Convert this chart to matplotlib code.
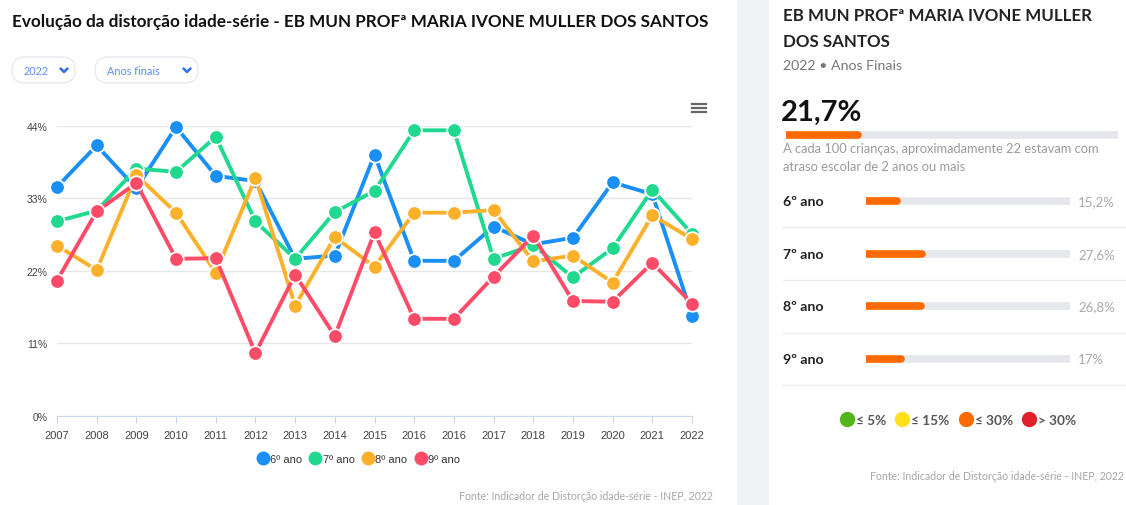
import matplotlib.pyplot as plt
from matplotlib.patches import FancyBboxPatch, Rectangle
from matplotlib.lines import Line2D

# dados do grafico (distorcao idade-serie, %)
anos = ['2007', '2008', '2009', '2010', '2011', '2012', '2013', '2014', '2015',
        '2016', '2016', '2017', '2018', '2019', '2020', '2021', '2022']
ano6 = [34.7, 41.0, 34.5, 43.8, 36.4, 35.6, 23.8, 24.3, 39.6, 23.5, 23.5, 28.7, 26.0, 27.0, 35.4, 33.6, 15.2]
ano7 = [29.5, 31.1, 37.5, 37.0, 42.3, 29.5, 23.8, 30.9, 34.1, 43.3, 43.3, 23.8, 25.9, 21.0, 25.4, 34.3, 27.6]
ano8 = [25.8, 22.1, 36.5, 30.8, 21.7, 36.1, 16.7, 27.1, 22.6, 30.8, 30.8, 31.2, 23.4, 24.3, 20.2, 30.4, 26.8]
ano9 = [20.5, 31.0, 35.3, 23.8, 23.9, 9.5, 21.4, 12.1, 27.8, 14.7, 14.7, 21.1, 27.3, 17.4, 17.3, 23.2, 17.0]
series = ['6º ano', '7º ano', '8º ano', '9º ano']
cores = ['#1a8ff5', '#1ed98e', '#fdb12b', '#fd4b68']
yticks = [0, 11, 22, 33, 44]

# painel lateral (2022)
taxa_total = 21.7
taxas_2022 = [15.2, 27.6, 26.8, 17.0]
rotulos_2022 = ['15,2%', '27,6%', '26,8%', '17%']
faixas = ['≤ 5%', '≤ 15%', '≤ 30%', '> 30%']
cores_faixas = ['#52b61a', '#ffe01a', '#ff6a00', '#e0202a']

W, H = 1126, 506
fig = plt.figure(figsize=(W / 100, H / 100), dpi=100)
plt.rcParams['font.family'] = ['Lato', 'DejaVu Sans']

# camada de fundo em pixels
bg = fig.add_axes([0, 0, 1, 1])
bg.set_xlim(0, W)
bg.set_ylim(H, 0)
bg.axis('off')
bg.add_patch(Rectangle((737, 0), 31, H, color='#f1f2f5', zorder=0))

bg.text(12, 22, 'Evolução da distorção idade-série - EB MUN PROFª MARIA IVONE MULLER DOS SANTOS',
        fontsize=12.35, fontweight='bold', color='#111111', va='center')

# filtros
for x0, w, txt in [(12, 63, '2022'), (95, 103, 'Anos finais')]:
    bg.add_patch(FancyBboxPatch((x0, 58), w, 26, boxstyle='round,pad=0,rounding_size=13',
                                fc='white', ec='#e8eaee', lw=1))
    bg.text(x0 + 12, 71.5, txt, fontsize=7.8, color='#5b8def', va='center')
    cx = x0 + w - 11
    bg.plot([cx - 3.5, cx, cx + 3.5], [69.5, 73, 69.5], color='#2f6fe4', lw=1.8,
            solid_capstyle='round', solid_joinstyle='round')

# icone de menu
for yy in [105, 109, 113]:
    bg.plot([692, 706], [yy, yy], color='#666666', lw=1.6)

bg.text(713, 497, 'Fonte: Indicador de Distorção idade-série - INEP, 2022',
        fontsize=7.6, color='#a6a6a6', ha='right', va='center')

# grafico de linhas
ax = fig.add_axes([57 / W, (H - 416.7) / H, (692 - 57) / W, 290 / H])
x = list(range(len(anos)))
for vals, cor, nome in zip([ano6, ano7, ano8, ano9], cores, series):
    ax.plot(x, vals, color=cor, lw=2.8, marker='o', ms=10.5, mec='white', mew=1.3,
            clip_on=False, label=nome, zorder=3)
ax.set_xlim(0, len(anos) - 1)
ax.set_ylim(0, 44)
ax.set_xticks(x)
ax.set_xticklabels(anos)
ax.set_yticks(yticks)
ax.set_yticklabels([f'{v}%' for v in yticks])
ax.grid(axis='y', color='#e6e6e6', lw=1)
ax.set_axisbelow(True)
for s in ['top', 'right', 'left']:
    ax.spines[s].set_visible(False)
ax.spines['bottom'].set_color('#ccd6eb')
ax.tick_params(axis='x', length=5, color='#ccd6eb', labelsize=8, labelcolor='#444444', pad=5)
ax.tick_params(axis='y', length=0, labelsize=7.5, labelcolor='#444444', pad=7)
for lbl in ax.get_xticklabels() + ax.get_yticklabels():
    lbl.set_family(['Liberation Sans', 'DejaVu Sans'])

handles = [Line2D([], [], marker='o', ls='none', color=c, ms=9) for c in cores]
leg = fig.legend(handles, series, loc='center', bbox_to_anchor=(358 / W, 1 - 460 / H), ncol=4,
                 frameon=False, fontsize=8, handletextpad=0.05, columnspacing=0.6, handlelength=1.2)
for t in leg.get_texts():
    t.set_color('#333333')
    t.set_family(['Liberation Sans', 'DejaVu Sans'])

# painel lateral
bg.text(783, 16, 'EB MUN PROFª MARIA IVONE MULLER', fontsize=12.2, fontweight='bold',
        color='#222222', va='center')
bg.text(783, 42, 'DOS SANTOS', fontsize=12.2, fontweight='bold', color='#222222', va='center')
bg.text(783, 66, '2022 • Anos Finais', fontsize=10.2, color='#777777', va='center')
bg.text(781, 113, '21,7%', fontsize=21, fontweight='bold', color='#111111', va='center')
bg.text(783, 149, 'A cada 100 crianças, aproximadamente 22 estavam com', fontsize=9.3,
        color='#9a9a9a', va='center')
bg.text(783, 167, 'atraso escolar de 2 anos ou mais', fontsize=9.3, color='#9a9a9a', va='center')

ax_t = fig.add_axes([786 / W, 1 - 140 / H, 332 / W, 8 / H])
ax_t.plot([0, 100], [0, 0], color='#e5e7eb', lw=5.5, solid_capstyle='round')
ax_t.plot([0, taxa_total], [0, 0], color='#ff6a00', lw=5.5, solid_capstyle='round')
ax_t.set_xlim(0, 100)
ax_t.set_ylim(-1, 1)
ax_t.axis('off')

ax_b = fig.add_axes([866 / W, 1 - 386.3 / H, 204 / W, 210.6 / H])
for i, (nome, v, r) in enumerate(zip(series, taxas_2022, rotulos_2022)):
    ax_b.plot([0, 100], [i, i], color='#e5e7eb', lw=5.5, solid_capstyle='round')
    ax_b.plot([0, v], [i, i], color='#ff6a00', lw=5.5, solid_capstyle='round')
    ax_b.text(-0.407, i, nome, transform=ax_b.get_yaxis_transform(), fontsize=10.2,
              fontweight='bold', color='#222222', va='center')
    ax_b.text(1.04, i, r, transform=ax_b.get_yaxis_transform(), fontsize=9.5,
              color='#aaaaaa', va='center')
    ax_b.plot([-0.407, 1.29], [i + 0.5, i + 0.5], transform=ax_b.get_yaxis_transform(),
              color='#ececec', lw=1, clip_on=False)
ax_b.set_xlim(0, 100)
ax_b.set_ylim(3.5, -0.5)
ax_b.axis('off')

hf = [Line2D([], [], marker='o', ls='none', color=c, ms=10) for c in cores_faixas]
leg2 = fig.legend(hf, faixas, loc='center', bbox_to_anchor=(957 / W, 1 - 421 / H), ncol=4,
                  frameon=False, fontsize=9.8, handletextpad=0.0, columnspacing=0.55, handlelength=1.3)
for t in leg2.get_texts():
    t.set_color('#555555')
    t.set_fontweight('bold')

bg.text(1124, 477, 'Fonte: Indicador de Distorção idade-série - INEP, 2022',
        fontsize=7.6, color='#a6a6a6', ha='right', va='center')

plt.savefig('out.png', dpi=100)
